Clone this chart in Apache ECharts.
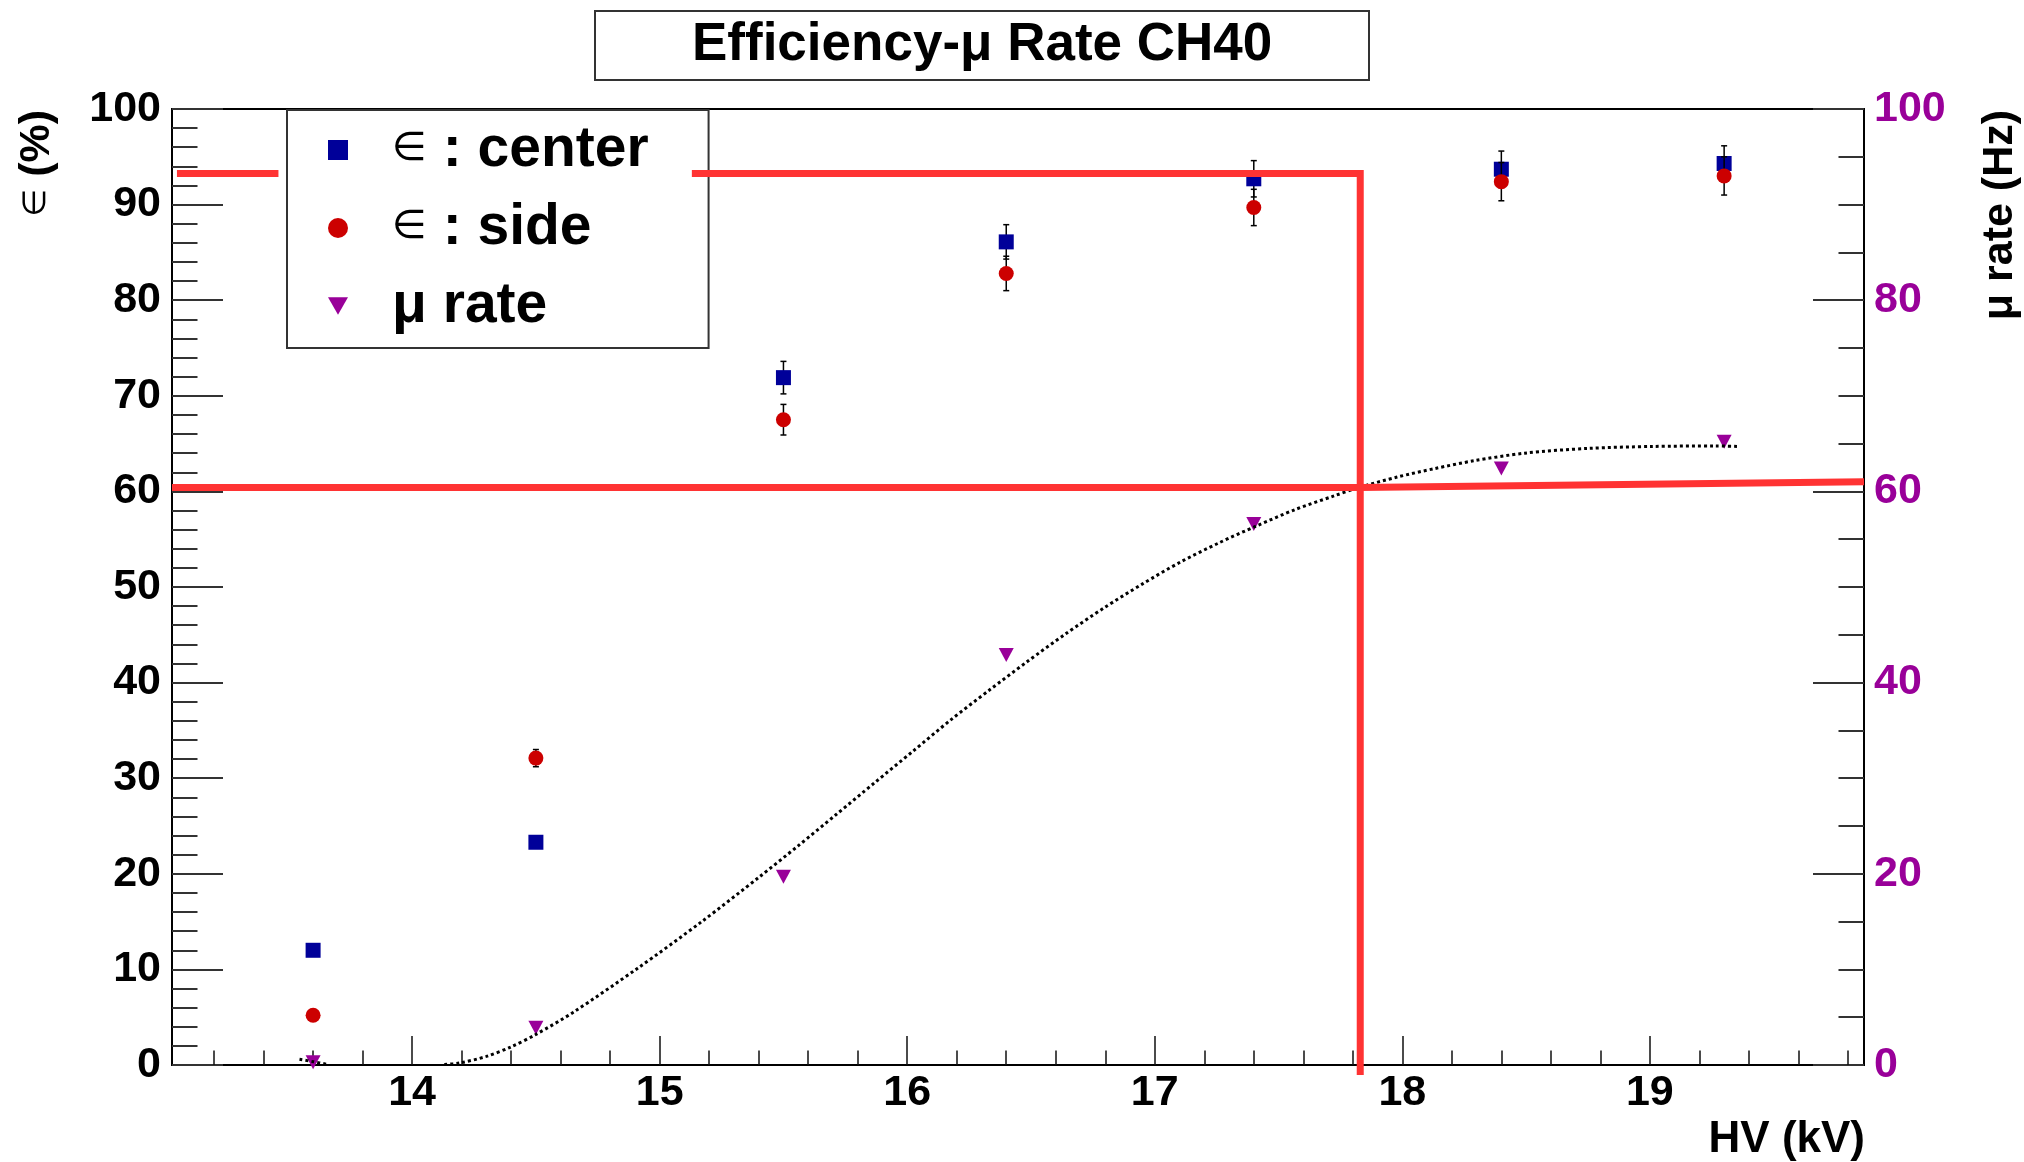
<!DOCTYPE html>
<html>
<head>
<meta charset="utf-8">
<script src="https://cdn.jsdelivr.net/npm/echarts@6/dist/echarts.min.js"></script>
<style>
  html, body { margin: 0; padding: 0; background: #ffffff; }
  #chart { width: 2024px; height: 1162px; }
</style>
</head>
<body>
<div id="chart"></div>
<script>
// HV scan points (kV)
const hv = [13.6, 14.5, 15.5, 16.4, 17.4, 18.4, 19.3];
// efficiency (%) measured at the chamber centre and side, with errors
const effCenter    = [12.0, 23.3, 71.9, 86.1, 92.7, 93.7, 94.3];
const effCenterErr = [0.4, 0.5, 1.7, 1.8, 1.9, 1.9, 1.85];
const effSide      = [5.2, 32.1, 67.5, 82.8, 89.7, 92.4, 93.0];
const effSideErr   = [0.4, 0.9, 1.6, 1.8, 1.9, 2.0, 2.0];
// muon rate (Hz)
const muRate = [0.3, 3.9, 19.7, 42.9, 56.6, 62.4, 65.2];
// fitted rate curve, sampled along HV ('-' = below the axis range)
const fitHV   = [13.545, 13.6, 13.66, 13.9, 14.13, 14.19, 14.3, 14.4, 14.5, 14.65, 14.91, 15.17, 15.404, 15.558, 15.713, 15.867, 16.022, 16.176, 16.331, 16.485, 16.64, 16.794, 16.949, 17.103, 17.258, 17.412, 17.567, 17.721, 17.824, 17.979, 18.133, 18.288, 18.494, 18.751, 19.009, 19.266, 19.356];
const fitRate = [0.6, 0.35, 0.05, '-', 0.05, 0.2, 0.9, 1.9, 3.2, 5.5, 10.1, 15.0, 19.7, 22.9, 26.2, 29.5, 32.8, 36.1, 39.2, 42.2, 45.1, 47.8, 50.3, 52.6, 54.6, 56.4, 58.1, 59.5, 60.4, 61.5, 62.4, 63.2, 64.0, 64.5, 64.7, 64.75, 64.7];
// working-point guide lines (HV, efficiency %)
const guideTopLeft  = [[13.05, 93.25], [13.46, 93.25]];
const guideTopRight = [[15.13, 93.25], [17.83, 93.25], [17.83, -1.05]];
const guideMid      = [[13.03, 60.4], [17.83, 60.4], [19.865, 61.0]];
// axis ranges and ticks
const hvMin = 13.03, hvMax = 19.865;
const hvMajorTicks = [14, 15, 16, 17, 18, 19];
const hvMinorTicks = [13.2, 13.4, 13.6, 13.8, 14.2, 14.4, 14.6, 14.8, 15.2, 15.4, 15.6, 15.8, 16.2, 16.4, 16.6, 16.8, 17.2, 17.4, 17.6, 17.8, 18.2, 18.4, 18.6, 18.8, 19.2, 19.4, 19.6, 19.8];

const FONT = '"Liberation Sans", Arial, Helvetica, sans-serif';
const SYM_FONT = '"DejaVu Sans", "Noto Sans", sans-serif';
const BLUE = '#000099', RED = '#cc0000', PURPLE = '#990099', GUIDE = '#ff3333';
const TRI_DOWN = 'path://M0,0 L17,0 L8.5,15 Z';

const chart = echarts.init(document.getElementById('chart'), null, { renderer: 'canvas' });

function errorBars(values, errs) {
  return hv.map((x, i) => [x, values[i], errs[i]]);
}
function renderErr(params, api) {
  const x = api.value(0), y = api.value(1), e = api.value(2);
  const top = api.coord([x, y + e]);
  const bot = api.coord([x, y - e]);
  const cw = 3;
  const st = { stroke: '#000', lineWidth: 1.5 };
  return {
    type: 'group',
    children: [
      { type: 'line', shape: { x1: top[0], y1: top[1], x2: bot[0], y2: bot[1] }, style: st },
      { type: 'line', shape: { x1: top[0] - cw, y1: top[1], x2: top[0] + cw, y2: top[1] }, style: st },
      { type: 'line', shape: { x1: bot[0] - cw, y1: bot[1], x2: bot[0] + cw, y2: bot[1] }, style: st }
    ]
  };
}

// the element sign is set in a lighter symbol face, as in the original labels
const legendRich = {
  sym: { fontFamily: SYM_FONT, fontWeight: 'normal', fontSize: 40, color: '#000', lineHeight: 60 }
};

const option = {
  animation: false,
  backgroundColor: '#ffffff',
  title: {
    text: 'Efficiency-\u03bc Rate CH40',
    left: 595, top: 12,
    padding: [8, 97],
    borderColor: '#333', borderWidth: 2,
    backgroundColor: '#fff',
    textStyle: { fontFamily: FONT, fontSize: 53, fontWeight: 'bold', color: '#000', lineHeight: 51 }
  },
  legend: {
    orient: 'vertical',
    left: 287, top: 110,
    padding: [10, 60, 12, 41],
    itemGap: 18,
    itemWidth: 20, itemHeight: 20,
    backgroundColor: '#fff',
    borderColor: '#333', borderWidth: 2,
    z: 8,
    selectedMode: false,
    formatter: function (name) {
      if (name.charAt(0) === '\u2208') return '{sym|\u2208}' + name.slice(1);
      return name;
    },
    textStyle: { fontFamily: FONT, fontSize: 57, fontWeight: 'bold', color: '#000', lineHeight: 60, padding: [0, 0, 0, 39], rich: legendRich },
    data: [
      { name: '\u2208 : center', icon: 'rect' },
      { name: '\u2208 : side', icon: 'circle' },
      { name: '\u03bc rate', icon: TRI_DOWN }
    ]
  },
  grid: {
    left: 172, right: 160, top: 109, bottom: 97,
    show: true, borderColor: '#000', borderWidth: 2, backgroundColor: 'transparent'
  },
  xAxis: [
    {
      type: 'value', min: hvMin, max: hvMax, position: 'bottom',
      axisLine: { show: true, lineStyle: { color: '#000', width: 2 } },
      axisTick: { show: true, inside: true, length: 29, customValues: hvMajorTicks, lineStyle: { color: '#111', width: 1.5 } },
      axisLabel: { show: true, customValues: hvMajorTicks, margin: 7, fontFamily: FONT, fontSize: 43, fontWeight: 'bold', color: '#000' },
      splitLine: { show: false }
    },
    {
      type: 'value', min: hvMin, max: hvMax, position: 'bottom',
      axisLine: { show: false },
      axisTick: { show: true, inside: true, length: 14.5, customValues: hvMinorTicks, lineStyle: { color: '#111', width: 1.5 } },
      axisLabel: { show: false },
      splitLine: { show: false }
    }
  ],
  yAxis: [
    {
      type: 'value', min: 0, max: 100, interval: 10, position: 'left',
      axisLine: { show: true, lineStyle: { color: '#000', width: 2 } },
      axisTick: { show: true, inside: true, length: 51, lineStyle: { color: '#333', width: 2 } },
      minorTick: { show: true, splitNumber: 5, length: 25.5, lineStyle: { color: '#333', width: 2 } },
      axisLabel: { margin: 11, fontFamily: FONT, fontSize: 43, fontWeight: 'bold', color: '#000' },
      splitLine: { show: false }
    },
    {
      type: 'value', min: 0, max: 100, interval: 20, position: 'right',
      axisLine: { show: true, lineStyle: { color: '#000', width: 2 } },
      axisTick: { show: true, inside: true, length: 51, lineStyle: { color: '#333', width: 2 } },
      minorTick: { show: true, splitNumber: 4, length: 25.5, lineStyle: { color: '#333', width: 2 } },
      axisLabel: { margin: 10, fontFamily: FONT, fontSize: 43, fontWeight: 'bold', color: PURPLE },
      splitLine: { show: false }
    }
  ],
  graphic: [
    { type: 'text', x: 37, y: 110, rotation: Math.PI / 2,
      style: { text: '{s|\u2208} (%)', font: 'bold 43px ' + FONT, fill: '#000', align: 'right', verticalAlign: 'middle',
               rich: { s: { fontFamily: SYM_FONT, fontWeight: 'normal', fontSize: 32, fill: '#000' } } } },
    { type: 'text', x: 2000, y: 110, rotation: Math.PI / 2,
      style: { text: '\u03bc rate (Hz)', font: 'bold 43px ' + FONT, fill: '#000', align: 'right', verticalAlign: 'middle' } },
    { type: 'text', x: 1865, y: 1140,
      style: { text: 'HV (kV)', font: 'bold 44px ' + FONT, fill: '#000', align: 'right', verticalAlign: 'middle' } }
  ],
  series: [
    { type: 'custom', name: 'centerErr', xAxisIndex: 0, yAxisIndex: 0, z: 2,
      renderItem: renderErr, data: errorBars(effCenter, effCenterErr) },
    { type: 'scatter', name: '\u2208 : center', xAxisIndex: 0, yAxisIndex: 0, z: 3,
      symbol: 'rect', symbolSize: 15, itemStyle: { color: BLUE, opacity: 1 },
      data: hv.map((x, i) => [x, effCenter[i]]) },
    { type: 'custom', name: 'sideErr', xAxisIndex: 0, yAxisIndex: 0, z: 4,
      renderItem: renderErr, data: errorBars(effSide, effSideErr) },
    { type: 'scatter', name: '\u2208 : side', xAxisIndex: 0, yAxisIndex: 0, z: 5,
      symbol: 'circle', symbolSize: 15, itemStyle: { color: RED, opacity: 1 },
      data: hv.map((x, i) => [x, effSide[i]]) },
    { type: 'scatter', name: '\u03bc rate', xAxisIndex: 0, yAxisIndex: 1, z: 5,
      symbol: TRI_DOWN, symbolSize: [15, 14], itemStyle: { color: PURPLE, opacity: 1 },
      data: hv.map((x, i) => [x, muRate[i]]) },
    { type: 'line', name: 'fit', xAxisIndex: 0, yAxisIndex: 1, z: 6,
      symbol: 'none', smooth: 0.3, connectNulls: false,
      lineStyle: { color: '#000', width: 3, type: [3, 3] },
      data: fitHV.map((x, i) => [x, fitRate[i]]) },
    { type: 'line', name: 'guideTopLeft', xAxisIndex: 0, yAxisIndex: 0, z: 10, clip: false,
      symbol: 'none', lineStyle: { color: GUIDE, width: 7, cap: 'butt', join: 'miter' }, data: guideTopLeft },
    { type: 'line', name: 'guideTopRight', xAxisIndex: 0, yAxisIndex: 0, z: 10, clip: false,
      symbol: 'none', lineStyle: { color: GUIDE, width: 7, cap: 'butt', join: 'miter' }, data: guideTopRight },
    { type: 'line', name: 'guideMid', xAxisIndex: 0, yAxisIndex: 0, z: 10, clip: false,
      symbol: 'none', lineStyle: { color: GUIDE, width: 7, cap: 'butt', join: 'miter' }, data: guideMid }
  ]
};

chart.setOption(option);
</script>
</body>
</html>
